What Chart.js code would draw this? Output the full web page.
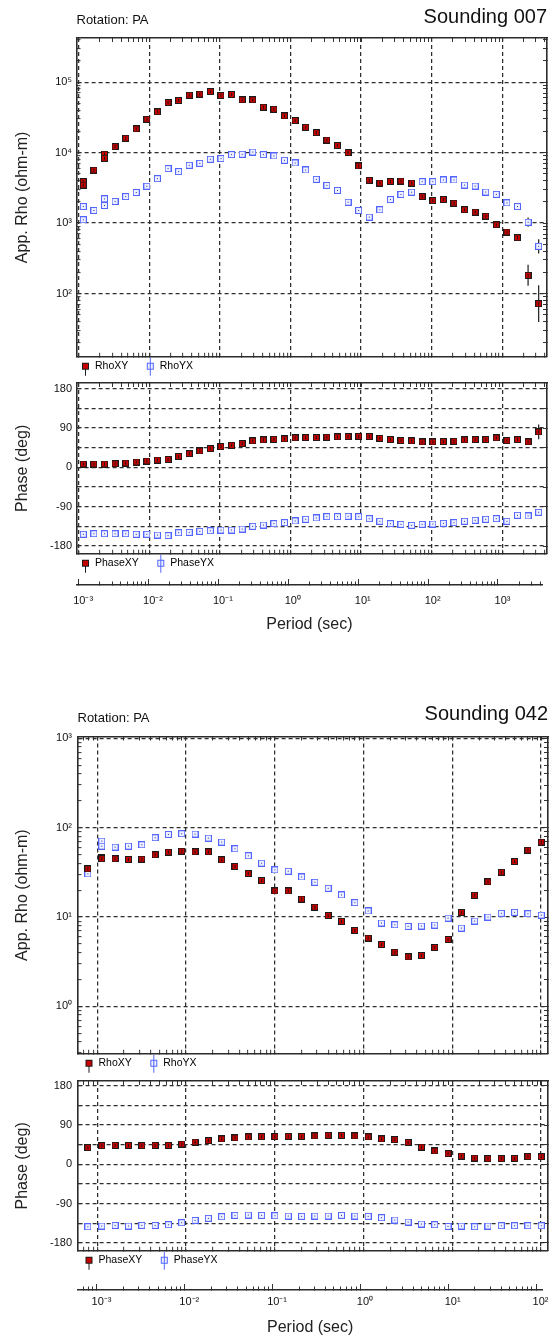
<!DOCTYPE html>
<html>
<head>
<meta charset="utf-8">
<title>Soundings 007 / 042</title>
<script src="https://cdn.jsdelivr.net/npm/chart.js@4.4.1/dist/chart.umd.min.js"></script>
<style>
  html, body { margin: 0; padding: 0; background: #ffffff; }
  #page { position: relative; width: 553px; height: 1336px; overflow: hidden; }
  #page canvas { position: absolute; left: 0; }
</style>
</head>
<body>
<div id="page">
  <canvas id="rho007" width="553" height="381" style="top:0px"></canvas>
  <canvas id="phase007" width="553" height="208" style="top:370px"></canvas>
  <canvas id="period007" width="553" height="62" style="top:575px"></canvas>
  <canvas id="rho042" width="553" height="378" style="top:700px"></canvas>
  <canvas id="phase042" width="553" height="207" style="top:1068px"></canvas>
  <canvas id="period042" width="553" height="56" style="top:1280px"></canvas>
</div>
<script>
const FAMILY = "'Liberation Sans', Arial, Helvetica, sans-serif";
Chart.defaults.font.family = FAMILY;
Chart.defaults.color = '#111';

// ---------- Sounding 007 ----------
// periods (s); first and third period were read twice
const period007 = [0.001161, 0.001161, 0.00164, 0.002317, 0.002317, 0.003273, 0.004624, 0.006531, 0.009226, 0.01303,
  0.01841, 0.026, 0.03673, 0.05188, 0.07328, 0.1035, 0.1462, 0.2065, 0.2917, 0.4121,
  0.5821, 0.8222, 1.161, 1.64, 2.317, 3.273, 4.624, 6.531, 9.226, 13.03,
  18.41, 26.0, 36.73, 51.88, 73.28, 103.5, 146.2, 206.5, 291.7, 412.1,
  582.1, 822.2, 1161, 1640, 2317, 3273];
const rhoXY007 = [3890, 3470, 5650, 9540, 8300, 12150, 16000, 21700, 29800, 37900,
  51400, 54900, 65300, 67500, 73600, 64600, 66800, 56100, 56100, 44200,
  41300, 33200, 28500, 22900, 19200, 15100, 12600, 10000, 6460, 4050,
  3700, 3900, 3950, 3700, 2380, 2090, 2160, 1920, 1545, 1430,
  1255, 947, 747, 620, 182, 72];
const rhoYX007 = [1720, 1115, 1510, 2210, 1780, 2030, 2380, 2720, 3340, 4270,
  5930, 5380, 6610, 7050, 8040, 8220, 9370, 9470, 10200, 9370,
  8970, 7780, 7130, 5670, 4180, 3430, 2910, 1980, 1510, 1216,
  1545, 2160, 2550, 2750, 3870, 3870, 4090, 4090, 3470, 3360,
  2760, 2560, 1940, 1720, 1030, 468];
const phaseXY007 = [7.7, 7.7, 7.7, 7.7, 7.7, 8.4, 10, 12.3, 14.6, 16.9,
  18.4, 25.3, 31.4, 37.5, 42.9, 47.5, 50.6, 54.4, 60.5, 62.8,
  64.3, 65.1, 67.4, 68.2, 68.2, 69, 69.7, 70.5, 71.2, 70.5,
  66.6, 63.6, 61.3, 60.5, 58.2, 58.2, 59, 59.7, 62.8, 63.6,
  63.6, 67.4, 61.3, 63.6, 58.2, 81.2];
const phaseYX007 = [-153, -153, -151.7, -151.7, -151.7, -151.7, -151.7, -153, -153, -154.7,
  -156, -149.4, -148.6, -146.3, -144.8, -143.2, -143.2, -141, -134.8, -131.8,
  -128.7, -126.4, -122.6, -118.7, -115.7, -112.6, -112.6, -111.8, -112.6, -117.2,
  -123.3, -128.7, -130.2, -132.5, -130.2, -129.5, -127.9, -126.4, -123.3, -121,
  -118.7, -117.2, -123.3, -109.5, -111, -102.6];
// error bars: point index, half width (decades for rho, degrees for phase)
const errIdx007 = [42, 43, 44, 45];
const rhoXYErr007 = [0.03, 0.04, 0.15, 0.26];
const rhoYXErr007 = [0, 0, 0.065, 0.1];
const phaseXYErr007 = [0, 1.5, 4, 17];
const phaseYXErr007 = [0, 0, 2, 4];

// ---------- Sounding 042 ----------
const period042 = [0.000785, 0.001127, 0.001127, 0.001592, 0.002249, 0.003177, 0.004487, 0.006339, 0.008954, 0.01265,
  0.01786, 0.02523, 0.03565, 0.05035, 0.07112, 0.1005, 0.1419, 0.2005, 0.2831, 0.3999,
  0.5649, 0.798, 1.127, 1.592, 2.249, 3.177, 4.487, 6.339, 8.954, 12.65,
  17.86, 25.23, 35.65, 50.35, 71.12, 100.5];
const rhoXY042 = [34.6, 46.5, 45.0, 44.9, 44.1, 44.5, 49.8, 53.3, 54.7, 53.7,
  53.7, 43.7, 36.8, 30.7, 25.6, 19.6, 19.6, 15.9, 12.9, 10.4,
  8.94, 7.08, 5.81, 4.93, 4.04, 3.58, 3.71, 4.56, 5.61, 11.3,
  17.5, 24.8, 31.8, 41.9, 56.1, 69];
const rhoYX042 = [30.4, 70.8, 62.2, 60.7, 62.2, 64.4, 77.3, 84.2, 85.7, 85,
  76.6, 69, 58.1, 48.5, 40.1, 33.7, 32.6, 28.1, 24.5, 21,
  17.7, 14.5, 11.7, 8.57, 8.2, 7.86, 7.93, 8.13, 9.74, 7.52,
  9.02, 10, 11, 11.3, 10.9, 10.5];
const phaseXY042 = [38.2, 42.8, 42.8, 43.6, 43.6, 42.8, 43.6, 43.6, 46.6, 51.2,
  54.3, 58.1, 60.4, 62.7, 63.4, 63.4, 64.2, 64.2, 65, 66.5,
  66.5, 65, 62.7, 58.1, 56.6, 50.4, 39.7, 30.6, 24.5, 19.1,
  14.5, 13, 13, 13.8, 17.6, 17.6];
const phaseYX042 = [-142.9, -141.4, -141.4, -139.9, -141.4, -139.9, -139.9, -138.3, -133.8, -128.4,
  -123.8, -120, -116.9, -116.2, -116.9, -117.7, -118.5, -119.2, -118.5, -118.5,
  -116.9, -118.5, -119.2, -122.3, -127.6, -132.2, -136.8, -138.3, -142.2, -141.4,
  -142.9, -141.4, -140.6, -140.6, -140.6, -140.6];

// ---------- axes ----------
const periodDecades007 = [0.0001, 0.001, 0.01, 0.1, 1, 10, 100, 1000];
const periodDecades042 = [0.0001, 0.001, 0.01, 0.1, 1, 10, 100];
const rhoDecades007 = [10, 100, 1000, 10000, 100000];
const rhoDecades042 = [0.1, 1, 10, 100, 1000];
const phaseTicks = [-180, -135, -90, -45, 0, 45, 90, 135, 180];
const phaseLabels = [-180, -90, 0, 90, 180];

const SUP = { '-': '\u207B', '0': '\u2070', '1': '\u00B9', '2': '\u00B2', '3': '\u00B3', '4': '\u2074',
  '5': '\u2075', '6': '\u2076', '7': '\u2077', '8': '\u2078', '9': '\u2079' };

function isDecade(v) {
  const l = Math.log10(v);
  return Math.abs(l - Math.round(l)) < 1e-6;
}
function expLabel(v) {
  if (!isDecade(v)) return '';
  return '10' + String(Math.round(Math.log10(v))).split('').map(c => SUP[c]).join('');
}
function withMinors(decades) {
  const out = [];
  decades.forEach(d => { for (let m = 1; m <= 9; m++) out.push(m * d); });
  return out;
}
function phaseLabel(v) {
  return phaseLabels.includes(v) ? String(v) : '';
}
function pts(xs, ys) {
  return xs.map((x, i) => ({ x: x, y: ys[i] }));
}
const measureCtx = document.createElement('canvas').getContext('2d');
function textWidth(s, size) {
  measureCtx.font = 'normal ' + size + 'px ' + FAMILY;
  return measureCtx.measureText(s).width;
}

// marker and legend symbols
function mark(kind) {
  const c = document.createElement('canvas');
  c.width = 7; c.height = 7;
  const g = c.getContext('2d');
  if (kind === 'xy') {
    g.fillStyle = '#1b1b1b'; g.fillRect(0, 0, 7, 7);
    g.fillStyle = '#c80000'; g.fillRect(1, 1, 5, 5);
    g.fillStyle = '#1b1b1b'; g.fillRect(3, 2, 1, 3);
  } else {
    g.fillStyle = '#5266ff'; g.fillRect(0, 0, 7, 7);
    g.fillStyle = '#eef0ff'; g.fillRect(1, 1, 5, 5);
    g.fillStyle = '#27369e'; g.fillRect(3, 3, 1, 1);
  }
  return c;
}
function legendIcon(kind) {
  const c = document.createElement('canvas');
  c.width = 30; c.height = 22;
  const g = c.getContext('2d');
  const cx = 22, cy = 11;
  if (kind === 'xy') {
    g.fillStyle = '#1b1b1b';
    g.fillRect(cx, cy, 1, 10);
    g.fillRect(cx - 3, cy - 3, 7, 7);
    g.fillStyle = '#c80000'; g.fillRect(cx - 2, cy - 2, 5, 5);
  } else {
    g.fillStyle = '#5266ff';
    g.fillRect(cx, cy - 9, 1, 19);
    g.fillRect(cx - 3, cy - 3, 7, 7);
    g.fillStyle = '#eef0ff'; g.fillRect(cx - 2, cy - 2, 5, 5);
    g.fillStyle = '#5266ff'; g.fillRect(cx, cy - 2, 1, 5);
  }
  return c;
}
const markXY = mark('xy'), markYX = mark('yx');
const iconXY = legendIcon('xy'), iconYX = legendIcon('yx');

// vertical error bars through the library scales
const errorBars = {
  id: 'errorBars',
  beforeDatasetsDraw(chart) {
    const ctx = chart.ctx, xs = chart.scales.x, ys = chart.scales.y;
    ctx.save();
    ctx.lineWidth = 1.2;
    chart.data.datasets.forEach(ds => {
      if (!ds.errIdx) return;
      ctx.strokeStyle = '#1b1b1b';
      ds.errIdx.forEach((k, j) => {
        const e = ds.err[j];
        if (!e) return;
        const p = ds.data[k];
        const lo = ds.logErr ? p.y / Math.pow(10, e) : p.y - e;
        const hi = ds.logErr ? p.y * Math.pow(10, e) : p.y + e;
        const px = xs.getPixelForValue(p.x);
        ctx.beginPath();
        ctx.moveTo(px, ys.getPixelForValue(lo));
        ctx.lineTo(px, ys.getPixelForValue(hi));
        ctx.stroke();
      });
    });
    ctx.restore();
  }
};

function series(label, xs, ys, kind, errIdx, err, logErr) {
  return {
    label: label, data: pts(xs, ys), xAxisID: 'x', yAxisID: 'y',
    pointStyle: kind === 'xy' ? markXY : markYX,
    legendIcon: kind === 'xy' ? iconXY : iconYX,
    pointRadius: 3.5, pointHoverRadius: 3.5, showLine: false,
    errIdx: errIdx, err: err, logErr: logErr
  };
}

function frameChart(id, o) {
  const xTicks = s => { s.ticks = withMinors(o.xDecades).filter(v => v >= o.xMin && v <= o.xMax).map(v => ({ value: v })); };
  const yVals = o.yTicks.filter(v => v >= o.yMin && v <= o.yMax);
  const yTicks = s => { s.ticks = yVals.map(v => ({ value: v })); };
  // labels are mirrored (so they are not clipped to the narrow axis box) and pulled back left of the frame
  const widest = Math.max.apply(null, yVals.map(v => textWidth(o.yLabel(v), 11)));
  const blank = { autoSkip: false, maxRotation: 0, callback: () => '' };
  const inward = { drawOnChartArea: false, tickLength: -4, tickColor: '#333', tickWidth: 1 };
  const frame = { color: '#2b2b2b', width: 1.6 };
  const dashed = { color: '#2b2b2b', width: 1.6, dash: [4, 3] };
  const gridCol = test => c => (test(c.tick.value) ? '#2e2e2e' : 'rgba(0,0,0,0)');

  return new Chart(document.getElementById(id), {
    type: 'scatter',
    data: { datasets: o.datasets },
    options: {
      responsive: false,
      animation: false,
      events: [],
      layout: { autoPadding: false, padding: { left: o.padLeft, right: 0, top: 0, bottom: 0 } },
      scales: {
        x: {
          type: 'logarithmic', position: 'bottom', min: o.xMin, max: o.xMax,
          afterBuildTicks: xTicks, ticks: blank,
          grid: { color: gridCol(isDecade), lineWidth: 1.25, tickLength: -4, tickColor: '#333', tickWidth: 1 },
          border: dashed,
          afterFit: s => { s.height = 1; }
        },
        xTop: {
          type: 'logarithmic', position: 'top', min: o.xMin, max: o.xMax,
          afterBuildTicks: xTicks, ticks: blank, grid: inward, border: frame,
          title: o.topTitle,
          afterFit: s => { s.height = o.topH; }
        },
        y: {
          type: o.yType, position: 'left', min: o.yMin, max: o.yMax,
          afterBuildTicks: yTicks,
          ticks: { autoSkip: false, mirror: true, crossAlign: 'far', padding: o.labelRight - o.boxLeft - widest,
                   font: { size: 11 }, color: '#111', callback: o.yLabel },
          grid: { color: gridCol(o.yMajor), lineWidth: 1.25, tickLength: -4, tickColor: '#333', tickWidth: 1 },
          border: dashed,
          title: { display: true, text: o.yTitle, color: '#222', font: { size: 16 }, padding: { top: o.yTitlePad, bottom: 0 } },
          afterFit: s => { s.width = o.boxLeft - o.padLeft; }
        },
        yRight: {
          type: o.yType, position: 'right', min: o.yMin, max: o.yMax,
          afterBuildTicks: yTicks, ticks: blank, grid: inward, border: frame,
          afterFit: s => { s.width = 553 - o.boxRight; }
        }
      },
      plugins: {
        title: o.title,
        legend: {
          display: true, position: 'bottom', align: 'start', fullSize: true,
          labels: {
            usePointStyle: true, pointStyleWidth: 23.5, padding: 2.75, color: '#111', font: { size: 10.5 },
            generateLabels: chart => chart.data.datasets.map((ds, i) => ({
              text: ds.label, pointStyle: ds.legendIcon, fillStyle: 'rgba(0,0,0,0)',
              strokeStyle: 'rgba(0,0,0,0)', lineWidth: 0, hidden: false, datasetIndex: i
            }))
          }
        },
        tooltip: { enabled: false }
      }
    },
    plugins: [errorBars]
  });
}

function periodAxis(id, o) {
  const inRange = v => v >= o.xMin && v <= o.xMax;
  return new Chart(document.getElementById(id), {
    type: 'scatter',
    data: { datasets: [] },
    options: {
      responsive: false,
      animation: false,
      events: [],
      layout: { autoPadding: false, padding: { left: o.boxLeft, right: 553 - o.boxRight, top: 0, bottom: 0 } },
      scales: {
        // longer decade ticks, sitting on the axis line
        xMajor: {
          type: 'logarithmic', position: 'bottom', weight: -1, min: o.xMin, max: o.xMax,
          afterBuildTicks: s => { s.ticks = o.xDecades.filter(inRange).map(v => ({ value: v })); },
          ticks: { autoSkip: false, maxRotation: 0, callback: () => '' },
          grid: { drawOnChartArea: false, tickLength: -6, tickColor: '#333', tickWidth: 1 },
          border: { display: false },
          afterFit: s => { s.height = 0; }
        },
        x: {
          type: 'logarithmic', position: 'bottom', min: o.xMin, max: o.xMax,
          afterBuildTicks: s => { s.ticks = withMinors(o.xDecades).filter(inRange).map(v => ({ value: v })); },
          ticks: { autoSkip: false, maxRotation: 0, minRotation: 0, padding: o.labelPad - 0.5, labelOffset: 4.5,
                   font: { size: 11 }, color: '#111', callback: v => expLabel(v) },
          grid: { drawOnChartArea: false, tickLength: -3.5, tickColor: '#333', tickWidth: 1 },
          border: { color: '#2b2b2b', width: 1.6 },
          title: { display: true, text: 'Period (sec)', color: '#222', font: { size: 16 }, padding: { top: 0, bottom: o.titlePad } },
          afterFit: s => { s.height = o.h - 10; }
        },
        y: { display: false }
      },
      plugins: { legend: { display: false }, title: { display: false }, tooltip: { enabled: false } }
    }
  });
}

// ---------- Sounding 007 ----------
frameChart('rho007', {
  xMin: 0.000931, xMax: 4295, xDecades: periodDecades007,
  yType: 'logarithmic', yMin: 12.7, yMax: 423000, yTicks: withMinors(rhoDecades007), yMajor: isDecade, yLabel: expLabel,
  yTitle: 'App. Rho (ohm-m)', padLeft: 63.5, boxLeft: 76.5, boxRight: 547, topH: 38, labelRight: 72, yTitlePad: -50.1,
  title: { display: true, text: 'Sounding 007', align: 'end', fullSize: false, color: '#111',
           font: { size: 20, weight: 'normal' }, padding: { top: 5, bottom: -29 } },
  topTitle: { display: true, text: 'Rotation: PA', align: 'start', color: '#111', font: { size: 13 }, padding: { top: 12.2, bottom: 0 } },
  datasets: [
    series('RhoXY', period007, rhoXY007, 'xy', errIdx007, rhoXYErr007, true),
    series('RhoYX', period007, rhoYX007, 'yx', errIdx007, rhoYXErr007, true)
  ]
});
frameChart('phase007', {
  xMin: 0.000931, xMax: 4295, xDecades: periodDecades007,
  yType: 'linear', yMin: -197.5, yMax: 193, yTicks: phaseTicks, yMajor: () => true, yLabel: phaseLabel,
  yTitle: 'Phase (deg)', padLeft: 63.5, boxLeft: 76.5, boxRight: 547, topH: 13, labelRight: 72, yTitlePad: -50.1,
  title: { display: false }, topTitle: { display: false },
  datasets: [
    series('PhaseXY', period007, phaseXY007, 'xy', errIdx007, phaseXYErr007, false),
    series('PhaseYX', period007, phaseYX007, 'yx', errIdx007, phaseYXErr007, false)
  ]
});
periodAxis('period007', { xMin: 0.000931, xMax: 4295, xDecades: periodDecades007, boxLeft: 76.5, boxRight: 547, h: 62, labelPad: 13.4, titlePad: 2.4 });

// ---------- Sounding 042 ----------
frameChart('rho042', {
  xMin: 0.000637, xMax: 119.7, xDecades: periodDecades042,
  yType: 'logarithmic', yMin: 0.295, yMax: 1050, yTicks: withMinors(rhoDecades042), yMajor: isDecade, yLabel: expLabel,
  yTitle: 'App. Rho (ohm-m)', padLeft: 67, boxLeft: 77.5, boxRight: 548, topH: 36.5, labelRight: 72, yTitlePad: -53.6,
  title: { display: true, text: 'Sounding 042', align: 'end', fullSize: false, color: '#111',
           font: { size: 20, weight: 'normal' }, padding: { top: 2, bottom: -26 } },
  topTitle: { display: true, text: 'Rotation: PA', align: 'start', color: '#111', font: { size: 13 }, padding: { top: 10.2, bottom: 0 } },
  datasets: [
    series('RhoXY', period042, rhoXY042, 'xy'),
    series('RhoYX', period042, rhoYX042, 'yx')
  ]
});
frameChart('phase042', {
  xMin: 0.000637, xMax: 119.7, xDecades: periodDecades042,
  yType: 'linear', yMin: -198, yMax: 191, yTicks: phaseTicks, yMajor: () => true, yLabel: phaseLabel,
  yTitle: 'Phase (deg)', padLeft: 67, boxLeft: 77.5, boxRight: 548, topH: 13, labelRight: 72, yTitlePad: -53.6,
  title: { display: false }, topTitle: { display: false },
  datasets: [
    series('PhaseXY', period042, phaseXY042, 'xy'),
    series('PhaseYX', period042, phaseYX042, 'yx')
  ]
});
periodAxis('period042', { xMin: 0.000637, xMax: 119.7, xDecades: periodDecades042, boxLeft: 77.5, boxRight: 548, h: 56, labelPad: 9.4, titlePad: -1.1 });
</script>
</body>
</html>
